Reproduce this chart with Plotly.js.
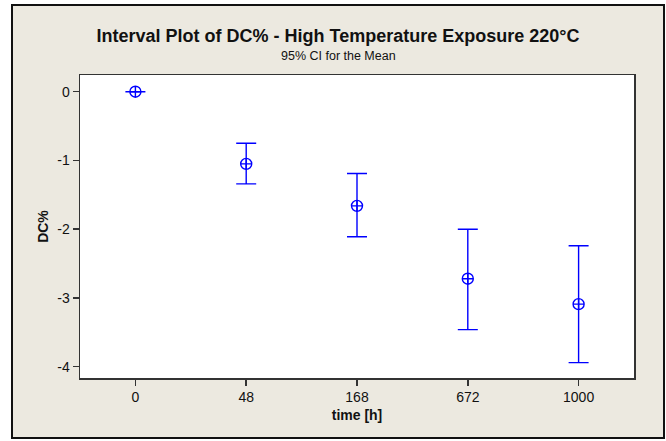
<!DOCTYPE html>
<html>
<head>
<meta charset="utf-8">
<script src="https://cdn.plot.ly/plotly-3.0.1.min.js"></script>
<style>
  html, body { margin: 0; padding: 0; background: #ffffff; width: 666px; height: 441px; overflow: hidden; }
  #chart { position: absolute; left: 11px; top: 4px; width: 650px; height: 431px; border: 2px solid #111; }
</style>
</head>
<body>
<div id="chart"></div>
<script>
// Data
const timeLabels = ['0', '48', '168', '672', '1000'];
const meanDC = [0, -1.05, -1.66, -2.72, -3.09];
const upperCI = [0, -0.75, -1.19, -2.00, -2.24];
const lowerCI = [0, -1.34, -2.11, -3.46, -3.94];
const yTickVals = [0, -1, -2, -3, -4];
const yTickText = ['0', '-1', '-2', '-3', '-4'];

const errPlus = meanDC.map((m, i) => upperCI[i] - m);
const errMinus = meanDC.map((m, i) => m - lowerCI[i]);

const blue = '#0000ff';
const fontFam = '"Liberation Sans", Arial, sans-serif';

const trace = {
  type: 'scatter',
  mode: 'markers',
  x: timeLabels,
  y: meanDC,
  marker: { symbol: 'circle-cross-open', size: 11, color: blue, line: { color: blue, width: 1.4 } },
  error_y: {
    type: 'data',
    symmetric: false,
    array: errPlus,
    arrayminus: errMinus,
    color: blue,
    thickness: 1.4,
    width: 10
  },
  hoverinfo: 'none',
  showlegend: false
};

const layout = {
  width: 650,
  height: 431,
  paper_bgcolor: '#ece9e0',
  plot_bgcolor: '#ffffff',
  margin: { l: 67, r: 29, t: 69, b: 59 },
  font: { family: fontFam, color: '#111', size: 14 },
  title: {
    text: '<b>Interval Plot of DC% - High Temperature Exposure 220°C</b>',
    xref: 'container', x: 0.5, xanchor: 'center',
    yref: 'container', y: 1 - 30 / 431, yanchor: 'middle',
    font: { family: fontFam, size: 18, color: '#111' }
  },
  annotations: [{
    text: '95% CI for the Mean',
    xref: 'paper', yref: 'paper',
    x: (338 - 80) / 554, y: 1 + (75 - 56) / 303,
    xanchor: 'center', yanchor: 'middle',
    showarrow: false,
    font: { family: fontFam, size: 12.5, color: '#111' }
  }],
  xaxis: {
    type: 'category',
    range: [-0.5, 4.5],
    showgrid: false, zeroline: false,
    showline: true, mirror: true, linecolor: '#333', linewidth: 1.5,
    ticks: 'outside', ticklen: 6, tickwidth: 1.5, tickcolor: '#333',
    tickfont: { family: fontFam, size: 14, color: '#111' },
    title: { text: '<b>time [h]</b>', font: { family: fontFam, size: 14, color: '#111' }, standoff: 6 }
  },
  yaxis: {
    range: [-4.164, 0.243],
    tickmode: 'array',
    tickvals: yTickVals,
    ticktext: yTickText,
    showgrid: false, zeroline: false,
    showline: true, mirror: true, linecolor: '#333', linewidth: 1.5,
    ticks: 'outside', ticklen: 6, tickwidth: 1.5, tickcolor: '#333',
    tickfont: { family: fontFam, size: 14, color: '#111' },
    title: { text: '<b>DC%</b>', font: { family: fontFam, size: 14, color: '#111' }, standoff: 5 }
  }
};

Plotly.newPlot('chart', [trace], layout, { displayModeBar: false, staticPlot: true });
</script>
</body>
</html>
